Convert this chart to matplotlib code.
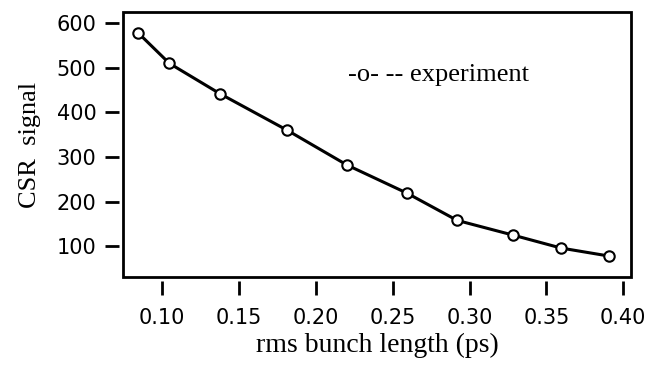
import numpy as np
import matplotlib
matplotlib.use('Agg')
import matplotlib.pyplot as plt
from matplotlib.patches import Rectangle

# values
bunch_length = [0.0846, 0.1048, 0.1377, 0.1815, 0.2204, 0.2594, 0.2920, 0.3284, 0.3596, 0.3909]
csr_signal = [578, 510, 442, 360, 282, 219, 158, 125, 96, 78]
xticks = [0.10, 0.15, 0.20, 0.25, 0.30, 0.35, 0.40]
yticks = [100, 200, 300, 400, 500, 600]

fig = plt.figure(figsize=(6.61, 3.66), dpi=100)
ax = fig.add_axes([0.186, 0.243, 0.769, 0.724])

ax.plot(bunch_length, csr_signal, '-o', color='black', lw=2.2,
        ms=7.5, mfc='white', mec='black', mew=1.5)

ax.set_xlim(0.0746, 0.4052)
ax.set_ylim(31, 625)
ax.set_xticks(xticks)
ax.set_xticklabels(['%.2f' % t for t in xticks])
ax.set_yticks(yticks)

# ticks sit a little away from the frame, like the original
for s in ['top', 'right']:
    ax.spines[s].set_visible(False)
for s in ['bottom', 'left']:
    ax.spines[s].set_position(('outward', 3))
    ax.spines[s].set_visible(False)
ax.add_patch(Rectangle((0, 0), 1, 1, transform=ax.transAxes, fill=False,
                       lw=2.0, ec='black', clip_on=False))

ax.tick_params(direction='out', length=10, width=2.0, labelsize=15, colors='black')
ax.tick_params(axis='x', pad=9)
ax.tick_params(axis='y', pad=6)
for lab in ax.get_xticklabels() + ax.get_yticklabels():
    lab.set_family('DejaVu Sans')

ax.set_xlabel('rms bunch length (ps)', family='Liberation Serif', fontsize=20, labelpad=4)
ax.set_ylabel('CSR  signal', family='Liberation Serif', fontsize=19, labelpad=11)

ax.text(0.443, 0.762, '-o- -- experiment', transform=ax.transAxes,
        family='Liberation Serif', fontsize=19, va='center', ha='left')

fig.savefig('out.png', dpi=100)
